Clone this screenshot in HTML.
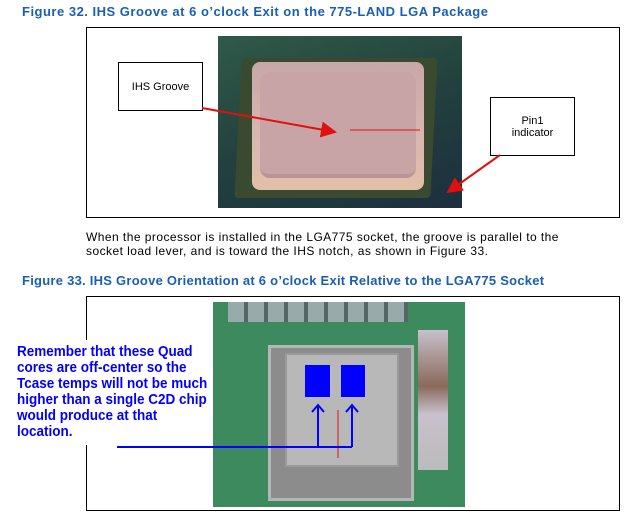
<!DOCTYPE html>
<html><head><style>
body{margin:0;width:636px;height:523px;background:#fff;position:relative;overflow:hidden;font-family:"Liberation Sans",sans-serif}
.t{position:absolute;color:#1a5fb4;font-weight:bold;font-size:13px;left:22px;letter-spacing:0.25px;white-space:nowrap}
.box{position:absolute;border:1px solid #000}
.p{position:absolute;font-size:12px;color:#000;left:86px;letter-spacing:0.45px;white-space:nowrap}
.lbl{position:absolute;background:#fff;border:1px solid #000;font-size:11px;text-align:center;display:flex;align-items:center;justify-content:center}
</style></head><body>
<div class="t" style="top:4px;letter-spacing:0.5px">Figure 32. IHS Groove at 6 o’clock Exit on the 775-LAND LGA Package</div>
<div class="box" style="left:86px;top:27px;width:532px;height:189px"></div>
<div style="position:absolute;left:218px;top:36px;width:244px;height:172px;background:linear-gradient(160deg,#2f5a48,#22413e 50%,#1c2f3e)"></div>
<div style="position:absolute;left:238px;top:58px;width:196px;height:140px;background:#3a4a30;transform:skewX(-3deg);border-radius:4px"></div>
<div style="position:absolute;left:252px;top:62px;width:172px;height:128px;background:linear-gradient(180deg,#c7a7a9,#d9b6b0 60%,#e2c0a8);border-radius:8px"></div>
<div style="position:absolute;left:260px;top:72px;width:156px;height:102px;background:#c9a4a7;border-radius:10px;border-bottom:4px solid #b99396"></div>
<div class="lbl" style="left:118px;top:62px;width:83px;height:47px">IHS Groove</div>
<div class="lbl" style="left:490px;top:97px;width:83px;height:57px">Pin1<br>indicator</div>
<svg style="position:absolute;left:0;top:0" width="636" height="523">
<defs><marker id="r" markerWidth="8" markerHeight="8" refX="7" refY="4" orient="auto"><path d="M0,0L8,4L0,8z" fill="#e01010"/></marker></defs>
<line x1="202" y1="108" x2="335" y2="132" stroke="#e01010" stroke-width="2" marker-end="url(#r)"/>
<line x1="350" y1="130" x2="420" y2="130" stroke="#e01010" stroke-width="1"/>
<line x1="500" y1="155" x2="448" y2="192" stroke="#e01010" stroke-width="2" marker-end="url(#r)"/>
</svg>
<div class="p" style="top:230px">When the processor is installed in the LGA775 socket, the groove is parallel to the</div>
<div class="p" style="top:244px">socket load lever, and is toward the IHS notch, as shown in Figure 33.</div>
<div class="t" style="top:273px">Figure 33. IHS Groove Orientation at 6 o’clock Exit Relative to the LGA775 Socket</div>
<div class="box" style="left:86px;top:296px;width:532px;height:213px"></div>
<div style="position:absolute;left:213px;top:302px;width:252px;height:205px;background:#3d8a5e"></div>
<div style="position:absolute;left:268px;top:345px;width:140px;height:150px;background:#8c8c8c;border:3px solid #b5b5b5"></div>
<div style="position:absolute;left:285px;top:353px;width:110px;height:110px;background:#b8b8b8;border:2px solid #9a9a9a"></div>
<div style="position:absolute;left:228px;top:302px;width:180px;height:20px;background:repeating-linear-gradient(90deg,#9aa 0 16px,#566 16px 20px)"></div>
<div style="position:absolute;left:418px;top:330px;width:30px;height:140px;background:linear-gradient(180deg,#c8c0cc,#8a6a5a 40%,#c8c0cc 60%,#bbb)"></div>
<div style="position:absolute;left:0;top:340px;width:210px;height:105px;background:#fff"></div>
<div style="position:absolute;left:17px;top:344px;font-size:15px;line-height:16px;color:#0000ff;font-weight:bold;transform:scaleX(0.9);transform-origin:left;white-space:nowrap">Remember that these Quad<br>cores are off-center so the<br>Tcase temps will not be much<br>higher than a single C2D chip<br>would produce at that<br>location.</div>
<div style="position:absolute;left:305px;top:365px;width:25px;height:32px;background:#0000ff"></div>
<div style="position:absolute;left:341px;top:365px;width:24px;height:32px;background:#0000ff"></div>
<svg style="position:absolute;left:0;top:0" width="636" height="523">
<line x1="338" y1="410" x2="338" y2="458" stroke="#e01010" stroke-width="1"/>
<path d="M117,447H352M318,447V405M352,447V405M312,412L318,405L324,412M346,412L352,405L358,412" stroke="#0000ff" stroke-width="2" fill="none"/>
</svg>
</body></html>
